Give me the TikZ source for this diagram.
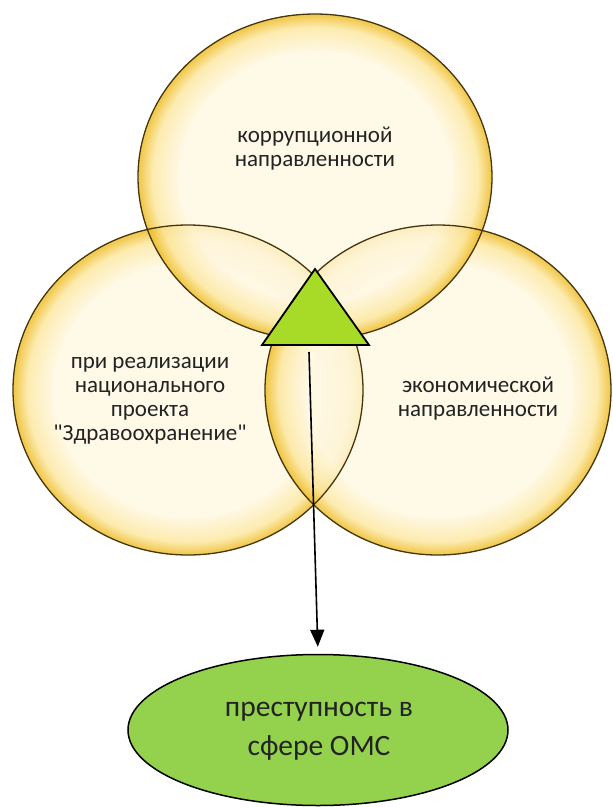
\documentclass[tikz,border=0pt]{standalone}
\usepackage{fontspec}
\setmainfont{Carlito}
\usetikzlibrary{shapes.geometric,arrows.meta}
\definecolor{bubcream}{RGB}{255,248,226}
\definecolor{bubmid}{RGB}{252,230,155}
\definecolor{bubgold}{RGB}{238,188,36}
\definecolor{bubline}{RGB}{70,52,10}
\definecolor{trigreen}{RGB}{168,218,40}
\definecolor{ovgreen}{RGB}{148,210,78}
\definecolor{txt}{RGB}{35,35,35}
\pgfdeclareradialshading{bubble}{\pgfpoint{0bp}{0bp}}{color(0bp)=(bubcream); color(19bp)=(bubcream); color(23bp)=(bubmid); color(24.8bp)=(bubgold); color(50bp)=(bubgold)}
\tikzset{
  bubfill/.style={shading=bubble, fill opacity=0.8},
  bubrim/.style={draw=bubline, line width=1.3pt},
  lbl/.style={font=\fontsize{23}{24}\selectfont, align=center, text=txt, inner sep=0pt},
  biglbl/.style={font=\fontsize{29.5}{39}\selectfont, align=center, text=txt, inner sep=0pt},
  tri/.style={draw=black, line width=1.8pt, fill=trigreen, line join=miter},
  oval/.style={ellipse, draw=black, line width=1.5pt, fill=ovgreen, minimum width=380pt, minimum height=151pt, inner sep=0pt},
  conn/.style={draw=black, line width=1.6pt, -{Triangle[length=17pt,width=14pt]}}
}
\begin{document}
\begin{tikzpicture}[x=1pt,y=-1pt]
\useasboundingbox (0,0) rectangle (613,807);
\coordinate (ctop) at (315,177);
\coordinate (cleft) at (188,390);
\coordinate (cright) at (438,390);
% bubbles
\shade[bubfill] (cleft) ellipse [x radius=175, y radius=165];
\shade[bubfill] (cright) ellipse [x radius=173, y radius=165];
\shade[bubfill] (ctop) ellipse [x radius=177, y radius=163];
\draw[bubrim] (cleft) ellipse [x radius=175, y radius=165];
\draw[bubrim] (cright) ellipse [x radius=173, y radius=165];
\draw[bubrim] (ctop) ellipse [x radius=177, y radius=163];
% labels
\node[lbl] (ltop) at (315,149) {коррупционной\\направленности};
\node[lbl] (lleft) at (150,401) {при реализации\\национального\\проекта\\\textquotedbl Здравоохранение\textquotedbl};
\node[lbl] (lright) at (478,399) {экономической\\направленности};
% triangle
\coordinate (tapex) at (315,269);
\coordinate (tbl) at (262,345);
\coordinate (tbr) at (369,345);
\draw[tri] (tapex) -- (tbr) -- (tbl) -- cycle;
% result
\node[oval] (omc) at (318,730) {};
\node[biglbl] (lomc) at (319,731) {преступность в\\сфере ОМС};
\coordinate (arrstart) at (309,352);
\draw[conn, shorten >=7pt] (arrstart) -- (omc.north);
\end{tikzpicture}
\end{document}
